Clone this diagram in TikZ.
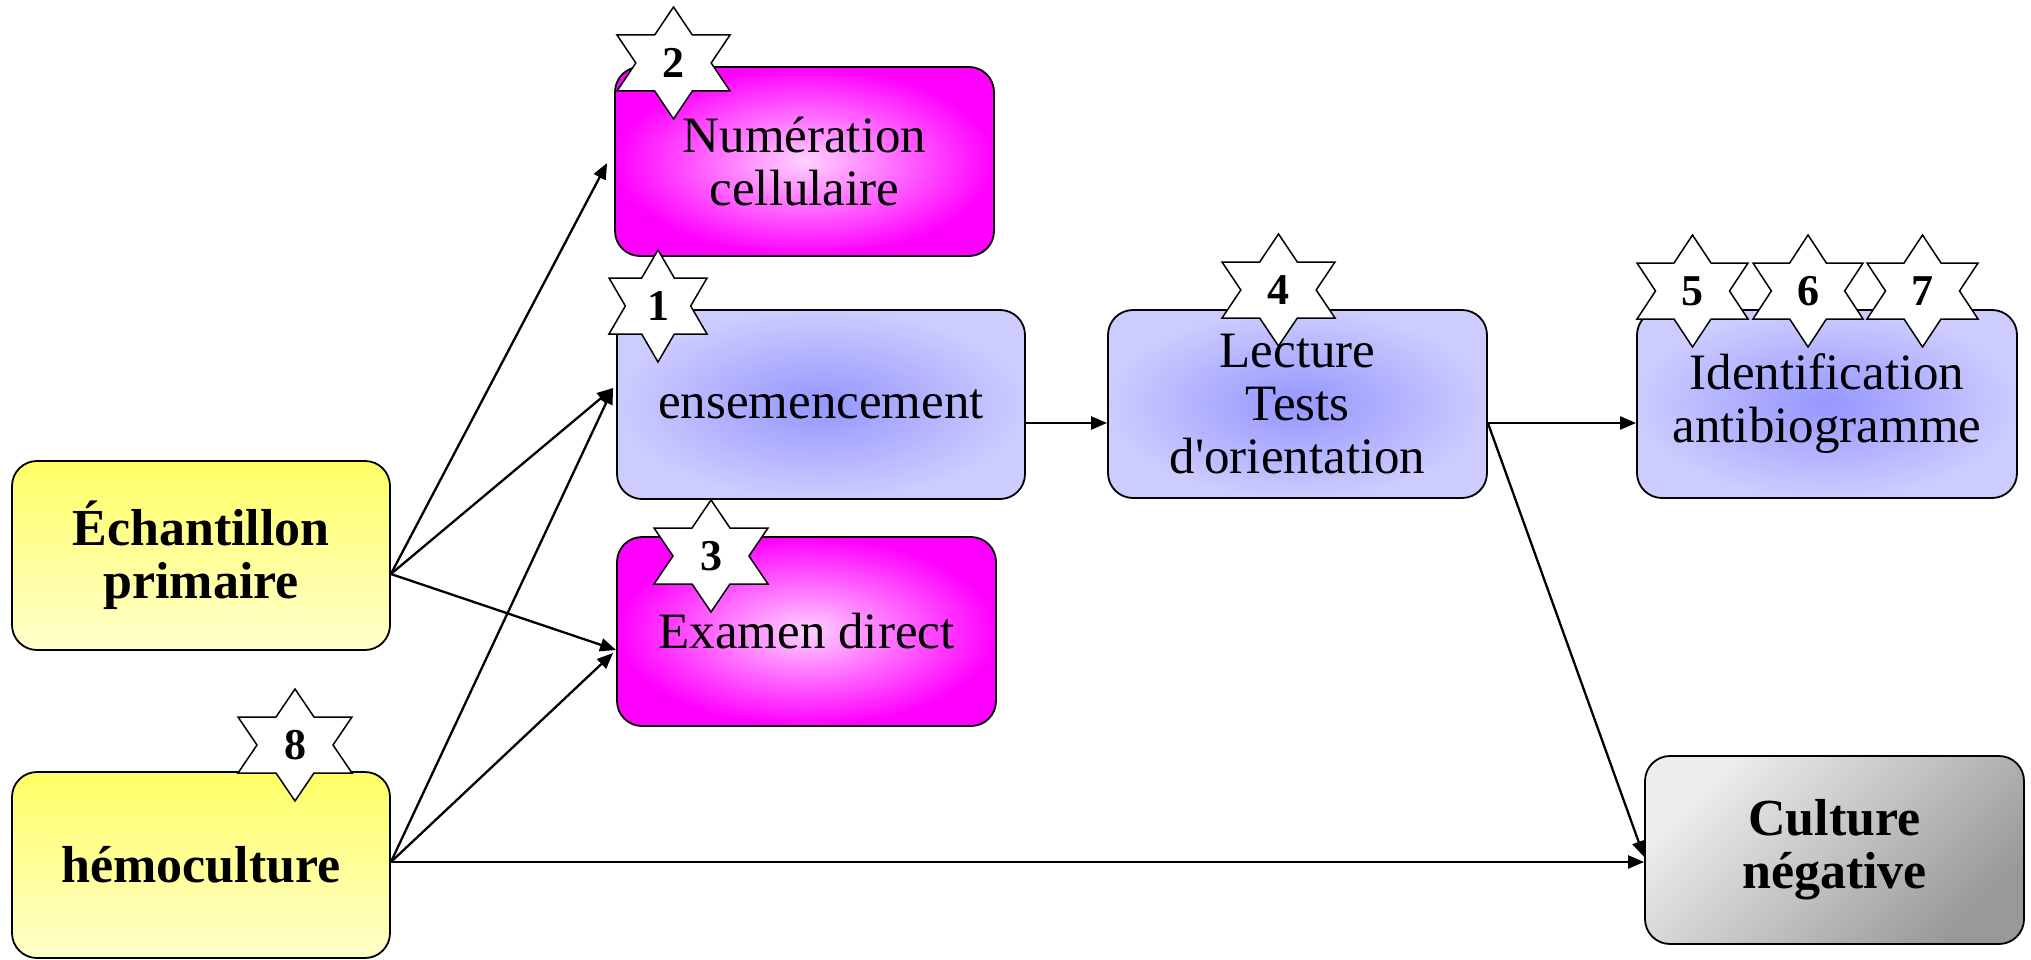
\documentclass[tikz,border=0pt]{standalone}
\usepackage{fontspec}
\setmainfont{Liberation Serif}
\newfontfamily\plainserif{Liberation Serif}
\usetikzlibrary{arrows.meta}
\definecolor{yelTop}{HTML}{FFFF66}
\definecolor{yelBot}{HTML}{FFFFCC}
\definecolor{magOut}{HTML}{FF00FF}
\definecolor{magIn}{HTML}{FFD2FF}
\definecolor{bluIn}{HTML}{9696FF}
\definecolor{bluOut}{HTML}{CCCCFF}
\definecolor{grTop}{HTML}{EEEEEE}
\definecolor{grBot}{HTML}{999999}
\tikzset{
  box/.style={draw=black, line width=1.8pt, rounded corners=25pt, align=center, inner sep=0pt,
    font=\fontsize{51}{53}\selectfont},
  boldbox/.style={box, font=\fontsize{52}{53}\selectfont\bfseries},
  yellowbox/.style={top color=yelTop, bottom color=yelBot},
  magbox/.style={inner color=magIn, outer color=magOut},
  blubox/.style={inner color=bluIn, outer color=bluOut},
  graybox/.style={shading=axis, top color=grTop, bottom color=grBot, shading angle=45},
  arr/.style={draw=black, line width=2.3pt, -{Triangle[length=16pt,width=13pt]}},
  starline/.style={draw=black, fill=white, line width=1.5pt, line join=miter},
  numtext/.style={font=\fontsize{44}{44}\selectfont\bfseries, inner sep=0pt}
}
\newcommand\sixstar[5]{%
  \begin{scope}[shift={(#2,#3)},x=#4pt,y=-56pt]
    \draw[starline] (0,1)--(1/3,1/2)--(1,1/2)--(2/3,0)--(1,-1/2)--(1/3,-1/2)--(0,-1)
      --(-1/3,-1/2)--(-1,-1/2)--(-2/3,0)--(-1,1/2)--(-1/3,1/2)--cycle;
    \node[numtext] (#1) at (0,0) {#5};
  \end{scope}}
\begin{document}
\begin{tikzpicture}[x=1pt,y=-1pt]
\useasboundingbox[fill=white] (0,0) rectangle (2031,960);
% boxes
\node[boldbox, yellowbox, minimum width=378pt, minimum height=189pt] (ech) at (201,555.5) {Échantillon\\primaire};
\node[boldbox, yellowbox, minimum width=378pt, minimum height=186pt] (hemo) at (201,865) {hémoculture};
\node[box, magbox, minimum width=379pt, minimum height=189pt] (num) at (804.5,161.5) {Numération\\cellulaire};
\node[box, blubox, minimum width=408pt, minimum height=189pt] (ens) at (821,404.5) {ensemencement};
\node[box, magbox, minimum width=379pt, minimum height=189pt] (exam) at (806.5,631.5) {Examen direct};
\node[box, blubox, minimum width=379pt, minimum height=188pt] (lec) at (1297.5,404) {Lecture\\Tests\\{\plainserif d'orientation}};
\node[box, blubox, minimum width=380pt, minimum height=188pt] (ident) at (1827,404) {Identification\\antibiogramme};
\node[boldbox, graybox, minimum width=379pt, minimum height=188pt] (neg) at (1834.5,850) {Culture\\négative};
% arrows
\draw[arr] ([yshift=-18.5pt]ech.east) -- ([xshift=-7pt,yshift=-1.5pt]num.west);
\draw[arr] ([yshift=-18.5pt]ech.east) -- ([xshift=-3pt,yshift=16.5pt]ens.west);
\draw[arr] ([yshift=-18.5pt]ech.east) -- ([yshift=-18.5pt]exam.west);
\draw[arr] ([yshift=3pt]hemo.east) -- ([xshift=-3pt,yshift=16.5pt]ens.west);
\draw[arr] ([yshift=3pt]hemo.east) -- ([xshift=-3pt,yshift=-21.5pt]exam.west);
\draw[arr] ([yshift=3pt]hemo.east) -- ([yshift=-12pt]neg.west);
\draw[arr] ([yshift=-18.5pt]ens.east) -- ([yshift=-19pt]lec.west);
\draw[arr] ([yshift=-19pt]lec.east) -- ([yshift=-19pt]ident.west);
\draw[arr] ([yshift=-19pt]lec.east) -- ([yshift=-7pt]neg.west);
% stars
\sixstar{s1}{658}{306}{49}{1}
\sixstar{s2}{673.5}{63}{56.5}{2}
\sixstar{s3}{711}{556}{57}{3}
\sixstar{s4}{1278.5}{290}{56.5}{4}
\sixstar{s5}{1692.5}{291}{55.5}{5}
\sixstar{s6}{1808}{291}{55}{6}
\sixstar{s7}{1922.5}{291}{55.5}{7}
\sixstar{s8}{295}{745}{57}{8}
\end{tikzpicture}
\end{document}
